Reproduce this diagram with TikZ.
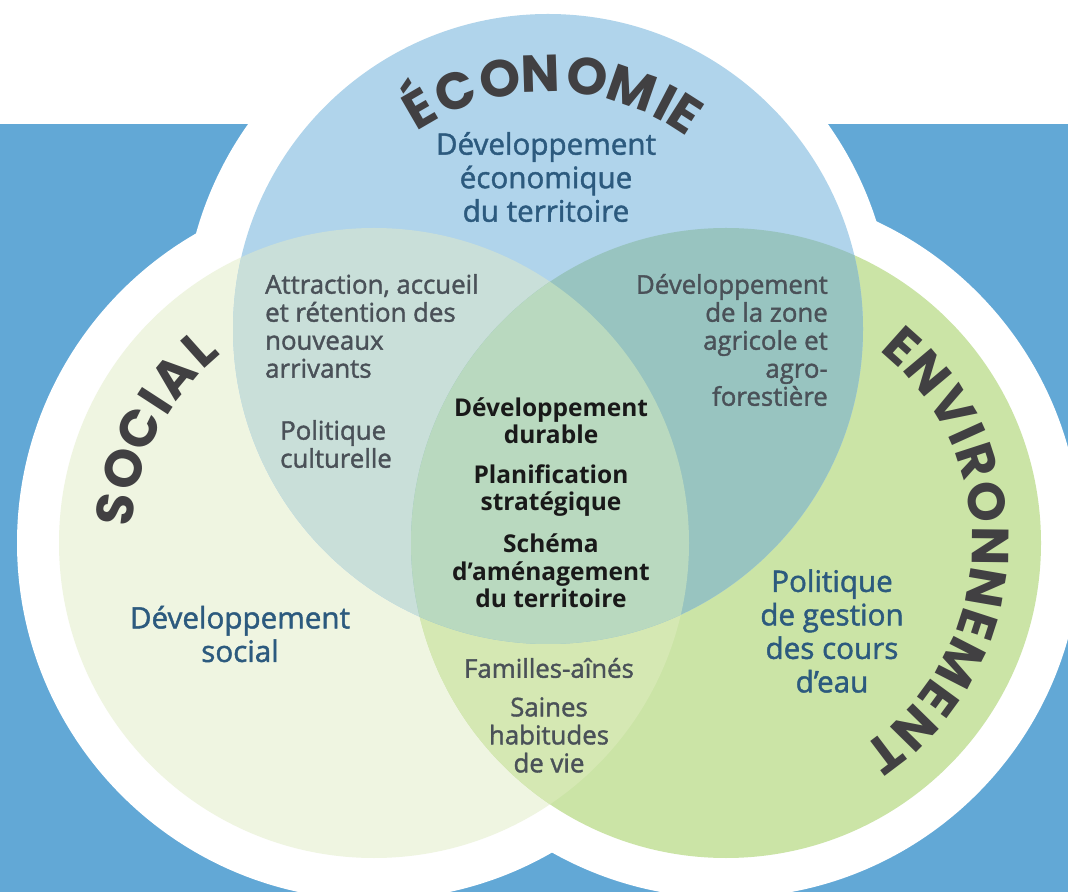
\documentclass[tikz,border=0pt]{standalone}
\usepackage{fontspec}
\setmainfont{Open Sans}
\newfontfamily\semifont{Open Sans}[FakeBold=1.5]
\newfontfamily\titlefont{Poppins}
\usepackage{tikz}

\definecolor{fond}{HTML}{62A8D6}
\definecolor{ecobleu}{HTML}{B0D4EB}
\definecolor{socvert}{HTML}{EFF5E1}
\definecolor{envvert}{HTML}{CBE4A6}
\definecolor{ecosoc}{HTML}{C9DFD9}
\definecolor{ecoenv}{HTML}{98C4C0}
\definecolor{socenv}{HTML}{D5E8B3}
\definecolor{milieu}{HTML}{B9D9BF}
\definecolor{titregris}{HTML}{414042}
\definecolor{textebleu}{HTML}{2C5A7E}
\definecolor{textegris}{HTML}{4A5158}

\begin{document}
\begin{tikzpicture}[x=1pt, y=1pt,
                    titre/.style={font=\titlefont\bfseries\fontsize{52}{52}\selectfont, text=titregris, inner sep=0pt, anchor=base},
                    bleu/.style={font=\semifont\fontsize{29.6}{33.5}\selectfont, text=textebleu, align=center, inner sep=0pt},
                    gris/.style={font=\semifont\fontsize{25.8}{28}\selectfont, text=textegris, inner sep=0pt},
                    centre/.style={font=\bfseries\fontsize{24.5}{27.5}\selectfont, text=black!90, align=center, inner sep=0pt},
                   ]
  \useasboundingbox (0,0) rectangle (1068,892);
  % Fond
  \fill[fond] (0,0) rectangle (1068,768);
  \coordinate (eco) at (548,563);
  \coordinate (soc) at (374,349);
  \coordinate (env) at (726,349);
  \fill[white] (538,563) circle (355);
  \fill[white] (soc) circle (357);
  \fill[white] (env) circle (355);

  % Cercles
  \fill[socvert] (soc) circle (315);
  \fill[envvert] (env) circle (315);
  \fill[ecobleu] (eco) circle (315);
  \begin{scope}
    \clip (soc) circle (315);
    \fill[socenv] (env) circle (315);
  \end{scope}
  \begin{scope}
    \clip (eco) circle (315);
    \fill[ecosoc] (soc) circle (315);
    \fill[ecoenv] (env) circle (315);
    \clip (soc) circle (315);
    \fill[milieu] (env) circle (315);
  \end{scope}

  % Titres
  \foreach \l/\a [count=\i] in {É/120.1, C/111.4, O/100.9, N/91.8, O/81.2, M/70.8, I/62.5, E/57.4}
    \node[titre, rotate=\a-90] (eco\i) at ([shift={(\a:237)}]eco) {\l};
  \foreach \l/\a [count=\i] in {S/172.5, O/163.5, C/154, I/147, A/140.2, L/131.8}
    \node[titre, rotate=\a-90] (soc\i) at ([shift={(\a:243)}]soc) {\l};
  \foreach \l/\a [count=\i] in {E/48.2, N/40, V/31, I/24.3, R/18, O/8.9, N/-0.6, N/-9.7, E/-18, M/-27.1, E/-36.2, N/-44.5, T/-52.9}
    \node[titre, rotate=\a-90] (env\i) at ([shift={(\a:246)}]env) {\l};

  % Textes
  \node[bleu] (ecotxt) at (546,715) {Développement\\économique\\du territoire};
  \node[bleu] (soctxt) at (240,258) {Développement\\social};
  \node[bleu] (envtxt) at (832,261) {Politique\\de gestion\\des cours\\d’eau};
  \node[gris, anchor=west, align=left] (attraction) at (265,566) {Attraction, accueil\\et rétention des\\nouveaux\\arrivants};
  \node[gris, anchor=west, align=left] (culture) at (280,448) {Politique\\culturelle};
  \node[gris, anchor=east, align=right] (agricole) at (828,552) {Développement\\de la zone\\agricole et\\agro-\\forestière};
  \node[gris, align=center] (familles) at (549,224) {Familles-aînés};
  \node[gris, align=center] (saines) at (549,157) {Saines\\habitudes\\de vie};
  \node[centre] (durable) at (551,471.5) {Développement\\durable};
  \node[centre] (planif) at (551,401.5) {Planification\\stratégique};
  \node[centre] (schema) at (551,321) {Schéma\\d’aménagement\\du territoire};
\end{tikzpicture}
\end{document}
